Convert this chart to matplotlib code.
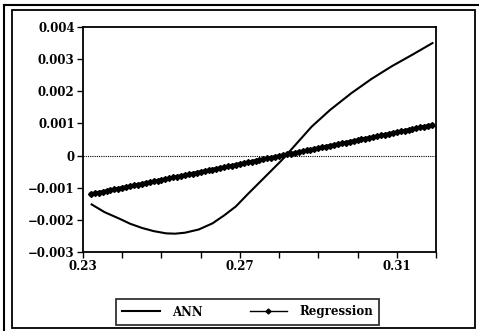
import numpy as np
import matplotlib
matplotlib.use("Agg")
import matplotlib.pyplot as plt
from matplotlib.patches import Rectangle
from matplotlib.lines import Line2D

# ANN curve (y in units of 1e-3)
ann_x = [0.2322, 0.2355, 0.2394, 0.2420, 0.2450, 0.2480, 0.2512, 0.2535,
         0.2560, 0.2595, 0.2630, 0.2660, 0.2690, 0.2720, 0.2748, 0.2807,
         0.2845, 0.2883, 0.2930, 0.2984, 0.3035, 0.3086, 0.3140, 0.3191]
ann_y = [-1.52, -1.76, -1.97, -2.12, -2.25, -2.35, -2.42, -2.43,
         -2.40, -2.30, -2.11, -1.86, -1.58, -1.20, -0.86, -0.14,
         0.38, 0.90, 1.42, 1.94, 2.38, 2.77, 3.14, 3.50]

# regression line, one marker every 0.001 from 0.232 to 0.319
reg_x0 = 0.232
reg_y = [-1.200, -1.175, -1.151, -1.126, -1.101, -1.077, -1.052, -1.027,
         -1.002, -0.978, -0.953, -0.928, -0.904, -0.879, -0.854, -0.830,
         -0.805, -0.780, -0.755, -0.731, -0.706, -0.681, -0.657, -0.632,
         -0.607, -0.583, -0.558, -0.533, -0.508, -0.484, -0.459, -0.434,
         -0.410, -0.385, -0.360, -0.336, -0.311, -0.286, -0.261, -0.237,
         -0.212, -0.187, -0.163, -0.138, -0.113, -0.089, -0.064, -0.039,
         -0.014, 0.010, 0.035, 0.060, 0.084, 0.109, 0.134, 0.158,
         0.183, 0.208, 0.233, 0.257, 0.282, 0.307, 0.331, 0.356,
         0.381, 0.405, 0.430, 0.455, 0.480, 0.504, 0.529, 0.554,
         0.578, 0.603, 0.628, 0.652, 0.677, 0.702, 0.727, 0.751,
         0.776, 0.801, 0.825, 0.850, 0.875, 0.899, 0.924, 0.949]
reg_x = [reg_x0 + 0.001 * i for i in range(len(reg_y))]

x_major = [0.23, 0.27, 0.31]
x_labels = ["0.23", "0.27", "0.31"]
y_ticks = [-0.003, -0.002, -0.001, 0, 0.001, 0.002, 0.003, 0.004]
y_labels = ["\u22120.003", "\u22120.002", "\u22120.001", "0",
            "0.001", "0.002", "0.003", "0.004"]

W, H = 479, 331
fig = plt.figure(figsize=(W / 100, H / 100), dpi=100)
font = dict(family="DejaVu Serif", weight="bold", size=8.5)

ax = fig.add_axes([83 / W, 1 - 252 / H, (436 - 83) / W, (252 - 27) / H])
ax.axhline(0, color="black", lw=0.8, ls=(0, (1, 1)))
ax.plot(ann_x, np.array(ann_y) * 1e-3, color="black", lw=1.5, label="ANN")
ax.plot(reg_x, np.array(reg_y) * 1e-3, color="black", lw=2.6,
        marker="D", ms=3.0, label="Regression")

ax.set_xlim(0.23, 0.3193)
ax.set_ylim(-0.003, 0.004)
ax.set_xticks(x_major)
ax.set_xticklabels(x_labels, **font)
ax.set_xticks(np.arange(0.24, 0.32, 0.01), minor=True)
ax.set_yticks(y_ticks)
ax.set_yticklabels(y_labels, **font)
ax.tick_params(direction="out", length=4, width=1, pad=2)
ax.tick_params(which="minor", direction="out", length=4, width=1)
for s in ax.spines.values():
    s.set_linewidth(1.3)

handles = [Line2D([], [], color="black", lw=1.5),
           Line2D([], [], color="black", lw=1.0, marker="D", ms=2.5)]
leg = fig.legend(handles, ["ANN", "Regression"], ncol=2,
                 loc="center", bbox_to_anchor=((119 + 376) / 2 / W, 1 - 312 / H),
                 prop=dict(family="DejaVu Serif", weight="bold", size=8.5),
                 frameon=True, fancybox=False, edgecolor="black",
                 handlelength=3.2, handletextpad=1.0, columnspacing=4.0,
                 borderpad=0.55)
leg.get_frame().set_linewidth(1.3)

# outer frames
fig.patches.append(Rectangle((12 / W, 1 - 328 / H), (475 - 12) / W, (328 - 10) / H,
                             transform=fig.transFigure, fill=False,
                             ec="black", lw=1.3))
fig.lines.append(Line2D([4 / W, 4 / W], [0, 1 - 5 / H], transform=fig.transFigure,
                        color="black", lw=1.5))
fig.lines.append(Line2D([4 / W, 1], [1 - 5 / H, 1 - 5 / H], transform=fig.transFigure,
                        color="black", lw=1.5))

fig.savefig("out.png", dpi=100)
